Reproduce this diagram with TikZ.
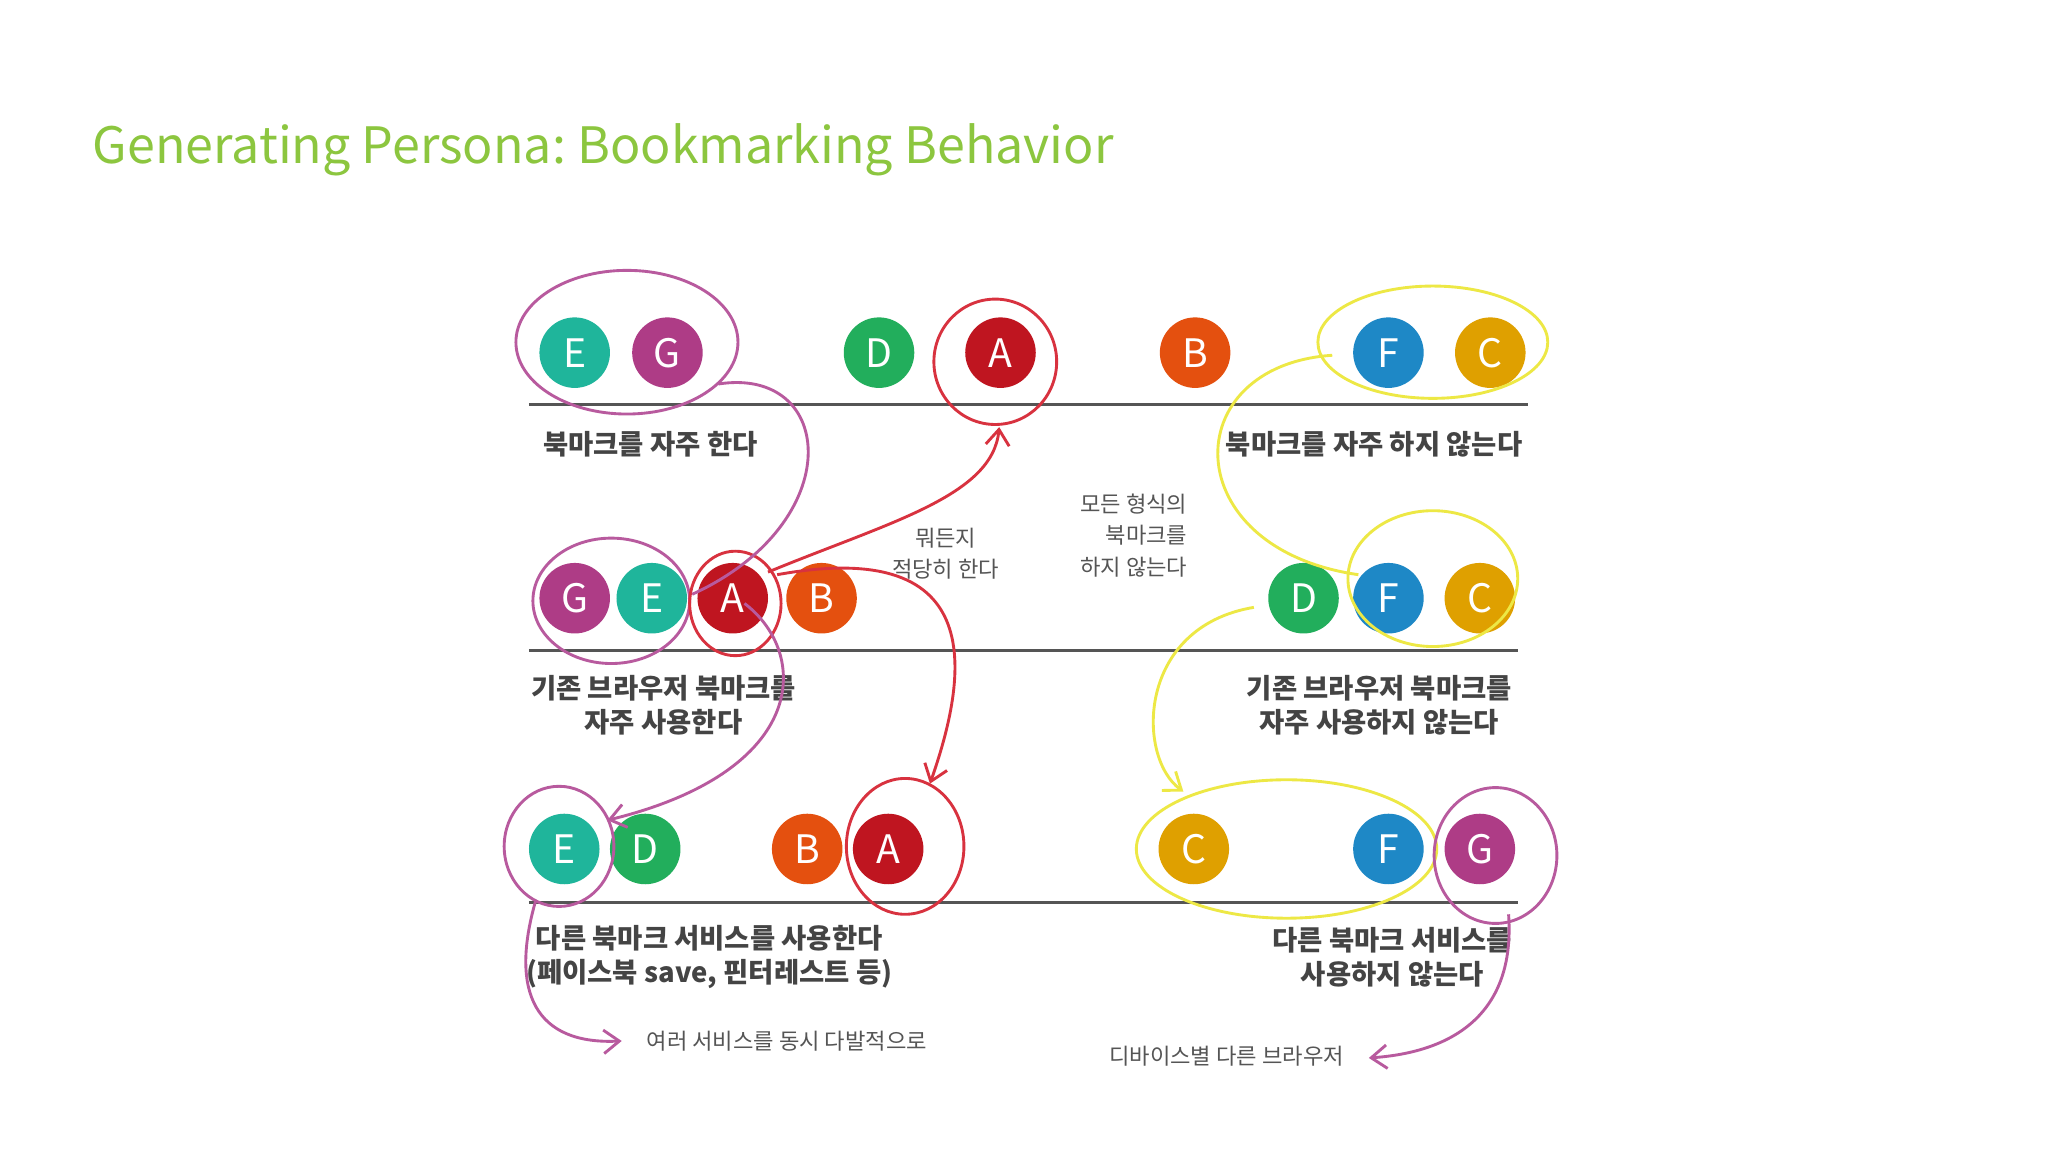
\documentclass[tikz,border=0pt]{standalone}
\usepackage{fontspec}
\setmainfont{Noto Sans CJK KR}
\usetikzlibrary{arrows.meta}
\definecolor{cE}{HTML}{1FB59B}\definecolor{cG}{HTML}{AE3C86}\definecolor{cD}{HTML}{22AE5C}
\definecolor{cA}{HTML}{BF1520}\definecolor{cB}{HTML}{E4500F}\definecolor{cF}{HTML}{1E88C6}
\definecolor{cC}{HTML}{DFA000}\definecolor{tg}{HTML}{8CC63F}\definecolor{hm}{HTML}{B85A9E}
\definecolor{hr}{HTML}{D8323F}\definecolor{hy}{HTML}{EDE845}\definecolor{ln}{HTML}{555555}
\tikzset{
 ball/.style={circle,fill=#1,minimum size=27pt,inner sep=0pt,text=white,font=\fontsize{15}{15}\selectfont},
 lbl/.style={align=center,text=ln!80!black,font=\fontsize{10.5}{13}\selectfont\bfseries},
 note/.style={align=center,text=ln,font=\fontsize{8.5}{12}\selectfont},
 hand/.style={line width=1.1pt,#1},
 arr/.style={-{Straight Barb[length=6pt,width=9pt]}},
 rule/.style={line width=1.2pt,ln}}
\begin{document}
\begin{tikzpicture}[x=0.5pt,y=-0.5pt]
\useasboundingbox (0,0) rectangle (1568,882);
\fill[white] (0,0) rectangle (1568,882);
\node[anchor=west,text=tg,font=\fontsize{19.2}{19.2}\selectfont] (title) at (64,115) {Generating Persona:\ Bookmarking Behavior};
% rules
\draw[rule] (405,310) -- (1170,310);
\draw[rule] (405,498) -- (1162,498);
\draw[rule] (405,691) -- (1162,691);
% row 1
\node[ball=cE] (e1) at (440,270) {E};\node[ball=cG] (g1) at (511,270) {G};
\node[ball=cD] (d1) at (673,270) {D};\node[ball=cA] (a1) at (766,270) {A};
\node[ball=cB] (b1) at (915,270) {B};\node[ball=cF] (f1) at (1063,270) {F};
\node[ball=cC] (c1) at (1141,270) {C};
% row 2
\node[ball=cG] (g2) at (440,458) {G};\node[ball=cE] (e2) at (499,458) {E};
\node[ball=cA] (a2) at (561,458) {A};\node[ball=cB] (b2) at (629,458) {B};
\node[ball=cD] (d2) at (998,458) {D};\node[ball=cF] (f2) at (1063,458) {F};
\node[ball=cC] (c2) at (1133,458) {C};
% row 3
\node[ball=cE] (e3) at (432,650) {E};\node[ball=cD] (d3) at (494,650) {D};
\node[ball=cB] (b3) at (618,650) {B};\node[ball=cA] (a3) at (680,650) {A};
\node[ball=cC] (c3) at (914,650) {C};\node[ball=cF] (f3) at (1063,650) {F};
\node[ball=cG] (g3) at (1133,650) {G};
% labels
\node[lbl] (l1) at (498,340) {북마크를 자주 한다};
\node[lbl] (r1) at (1052,340) {북마크를 자주 하지 않는다};
\node[lbl] (l2) at (508,540) {기존 브라우저 북마크를\\자주 사용한다};
\node[lbl] (r2) at (1056,540) {기존 브라우저 북마크를\\자주 사용하지 않는다};
\node[lbl] (l3) at (543,733) {다른 북마크 서비스를 사용한다\\(페이스북 save, 핀터레스트 등)};
\node[lbl] (r3) at (1066,733) {다른 북마크 서비스를\\사용하지 않는다};
\node[note] (n1) at (724,424) {뭐든지\\적당히 한다};
\node[note,align=right] (n2) at (868,410) {모든 형식의\\\hspace*{1em}북마크를\\하지 않는다};
\node[note,anchor=west] (n3) at (488,797) {여러 서비스를 동시 다발적으로};
\node[note,anchor=east] (n4) at (1036,809) {디바이스별 다른 브라우저};
% hand ellipses
\draw[hand=hm] (480,262) ellipse [x radius=85,y radius=55];
\draw[hand=hr] (762,277) ellipse [x radius=47,y radius=48];
\draw[hand=hy] (1097,262) ellipse [x radius=88,y radius=43];
\draw[hand=hm] (468,460) ellipse [x radius=60,y radius=48];
\draw[hand=hr] (563,462) ellipse [x radius=35,y radius=40];
\draw[hand=hy] (1097,443) ellipse [x radius=65,y radius=52];
\draw[hand=hm] (428,648) ellipse [x radius=42,y radius=46];
\draw[hand=hr] (693,648) ellipse [x radius=45,y radius=52];
\draw[hand=hy] (985,650) ellipse [x radius=115,y radius=53];
\draw[hand=hm] (1145,655) ellipse [x radius=47,y radius=52];
% connectors
\draw[hand=hm] (550,294) .. controls (640,280) and (650,400) .. (530,455);
\draw[hand=hm,arr] (570,462) .. controls (620,500) and (620,590) .. (465,628);
\draw[hand=hr,arr] (588,438) .. controls (680,400) and (760,380) .. (765,327);
\draw[hand=hr,arr] (595,440) .. controls (760,410) and (740,520) .. (712,600);
\draw[hand=hy] (1020,272) .. controls (900,280) and (900,420) .. (1040,440);
\draw[hand=hy,arr] (960,465) .. controls (870,480) and (870,580) .. (906,606);
\draw[hand=hm,arr] (410,690) .. controls (390,760) and (410,800) .. (476,797);
\draw[hand=hm,arr] (1155,700) .. controls (1160,770) and (1120,805) .. (1048,810);
\end{tikzpicture}
\end{document}
